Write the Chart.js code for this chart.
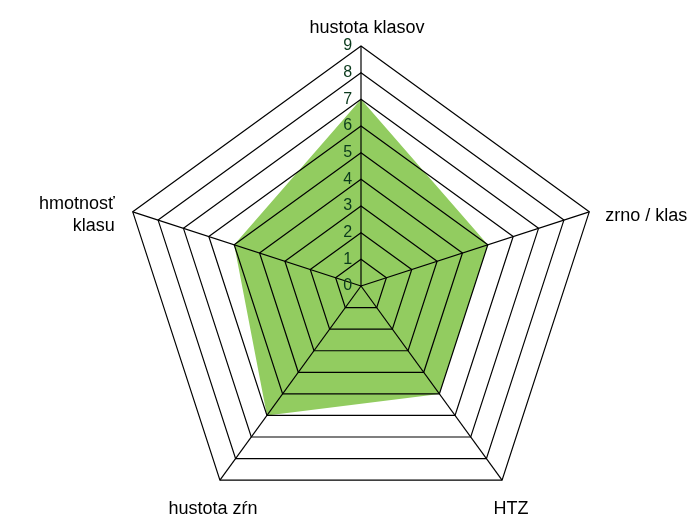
<!DOCTYPE html>
<html>
<head>
<meta charset="utf-8">
<script src="https://cdn.jsdelivr.net/npm/chart.js@4.4.1/dist/chart.umd.min.js"></script>
<style>
  html, body { margin: 0; padding: 0; background: #ffffff; }
  #wrap { width: 687px; height: 516px; }
</style>
</head>
<body>
<div id="wrap"><canvas id="c" width="687" height="516"></canvas></div>
<script>
// ---- data ----
const categories = ['hustota klasov', 'zrno / klas', 'HTZ', 'hustota zŕn', ['hmotnosť', 'klasu']];
const seriesValues = [7, 5, 5, 6, 5];
const tickValues = [0, 1, 2, 3, 4, 5, 6, 7, 8, 9];
const tickLabels = ['0', '1', '2', '3', '4', '5', '6', '7', '8', '9'];

// label placement styles (relative to the outer vertex given by the scale)
const labelStyle = [
  { align: 'center', dx: 6,   dy: -13 },
  { align: 'left',   dx: 16,  dy: 9 },
  { align: 'center', dx: 9,   dy: 34 },
  { align: 'center', dx: -7,  dy: 34 },
  { align: 'right',  dx: -18, dy: -3 }
];

const pointLabelPlugin = {
  id: 'pointLabelPlugin',
  afterDraw(chart) {
    const scale = chart.scales.r;
    const ctx = chart.ctx;
    ctx.save();
    ctx.font = '18px "Liberation Sans", Arial, sans-serif';
    ctx.fillStyle = '#000000';
    ctx.textBaseline = 'alphabetic';
    categories.forEach((lab, i) => {
      const p = scale.getPointPosition(i, scale.drawingArea);
      const st = labelStyle[i];
      ctx.textAlign = st.align;
      const lines = Array.isArray(lab) ? lab : [lab];
      lines.forEach((ln, k) => {
        ctx.fillText(ln, p.x + st.dx, p.y + st.dy + k * 22);
      });
    });
    ctx.restore();
  }
};

new Chart(document.getElementById('c'), {
  type: 'radar',
  data: {
    labels: categories,
    datasets: [{
      data: seriesValues,
      backgroundColor: '#92CC60',
      borderWidth: 0,
      pointRadius: 0,
      fill: true
    }]
  },
  options: {
    responsive: false,
    animation: false,
    layout: { padding: { top: 56, bottom: 0, left: 61, right: 26 } },
    plugins: { legend: { display: false }, tooltip: { enabled: false } },
    elements: { line: { tension: 0 } },
    scales: {
      r: {
        min: -0.001,
        max: 9,
        afterBuildTicks: (s) => { s.ticks = tickValues.map(v => ({ value: v })); },
        grid: { color: '#000000', lineWidth: 1.2, z: 1 },
        angleLines: { color: '#000000', lineWidth: 1.2 },
        pointLabels: { display: false },
        ticks: {
          z: 1,
          showLabelBackdrop: false,
          backdropPadding: -18,
          color: '#0A3A1C',
          font: { family: '"Liberation Sans", Arial, sans-serif', size: 16 },
          callback: (v, i) => {
            const idx = tickValues.indexOf(v);
            return idx >= 0 ? tickLabels[idx] + '\u00a0\u00a0\u00a0\u00a0\u00a0\u00a0' : '';
          }
        }
      }
    }
  },
  plugins: [pointLabelPlugin]
});
</script>
</body>
</html>
